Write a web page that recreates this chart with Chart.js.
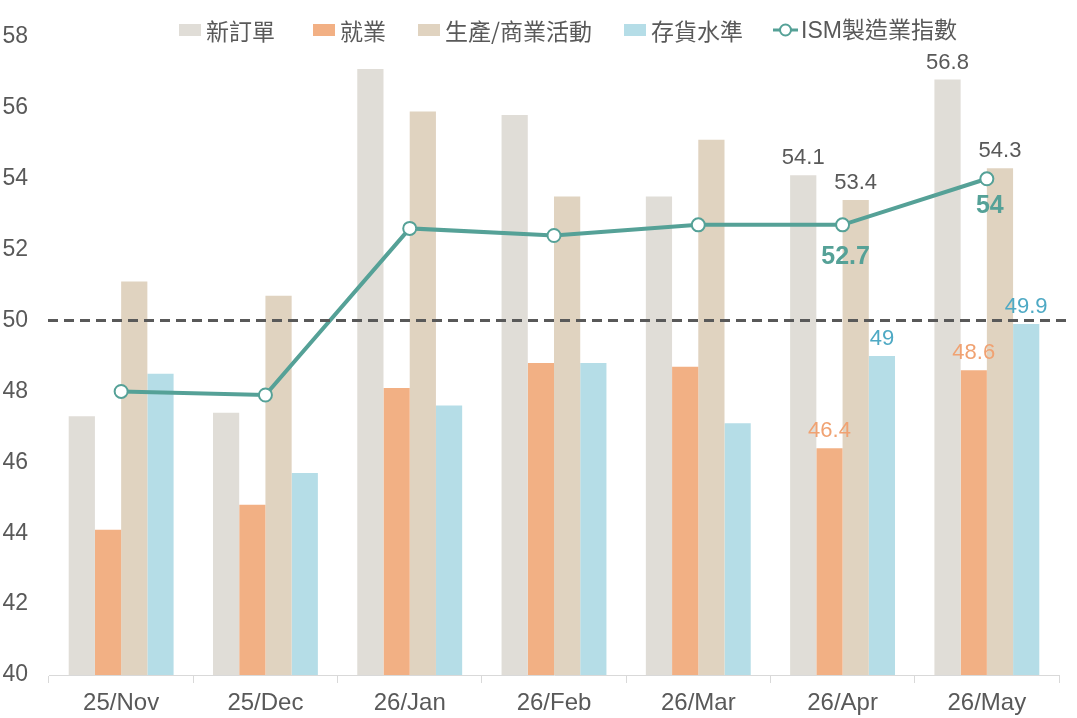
<!DOCTYPE html>
<html>
<head>
<meta charset="utf-8">
<script src="https://cdn.jsdelivr.net/npm/chart.js@4"></script>
<style>
    body { margin: 0; background: #fff; }
    #wrap { position: relative; width: 1077px; height: 718px; }
    #legend {
        position: absolute; top: 15px; left: 179px;
        display: flex; align-items: center;
        font-family: "Noto Sans CJK TC", "Liberation Sans", sans-serif;
        font-size: 23px; color: #595959; line-height: 30px;
    }
    .item { display: flex; align-items: center; }
    .box { width: 22px; height: 12px; margin-right: 5px; }
    .item span.txt { white-space: nowrap; }
    .ism { font-family: "Liberation Sans", "Noto Sans CJK TC", sans-serif; }
</style>
</head>
<body>
<div id="wrap">
    <canvas id="ismChart" width="1077" height="718"></canvas>
    <div id="legend"></div>
</div>
<script>
const months = ["25/Nov", "25/Dec", "26/Jan", "26/Feb", "26/Mar", "26/Apr", "26/May"];
const newOrders = [47.3, 47.4, 57.1, 55.8, 53.5, 54.1, 56.8];
const employment = [44.1, 44.8, 48.1, 48.8, 48.7, 46.4, 48.6];
const production = [51.1, 50.7, 55.9, 53.5, 55.1, 53.4, 54.3];
const inventories = [48.5, 45.7, 47.6, 48.8, 47.1, 49.0, 49.9];
const ismIndex = [48.0, 47.9, 52.6, 52.4, 52.7, 52.7, 54.0];
const yTicks = [40, 42, 44, 46, 48, 50, 52, 54, 56, 58];
const labeledMonths = [5, 6];
const threshold = 50;

const teal = "#55a197";
const fontLatin = "'Liberation Sans', Arial, sans-serif";

// dashed 50 line + value labels
const extras = {
    id: "extras",
    afterDatasetsDraw(chart) {
        const ctx = chart.ctx;
        const y = chart.scales.y.getPixelForValue(threshold);
        ctx.save();
        ctx.strokeStyle = "#595959";
        ctx.lineWidth = 3;
        ctx.setLineDash([10, 6]);
        ctx.beginPath();
        ctx.moveTo(chart.chartArea.left - 1, y);
        ctx.lineTo(chart.chartArea.right + 9, y);
        ctx.stroke();
        ctx.setLineDash([]);

        ctx.textAlign = "center";
        ctx.textBaseline = "alphabetic";
        chart.data.datasets.forEach((ds, di) => {
            const meta = chart.getDatasetMeta(di);
            labeledMonths.forEach(i => {
                const el = meta.data[i];
                const v = ds.data[i];
                if (ds.type === "line") {
                    ctx.font = "bold 25px " + fontLatin;
                    ctx.fillStyle = teal;
                    ctx.fillText(String(v), el.x + 3, el.y + (i === 5 ? 39 : 34));
                } else {
                    ctx.font = "22px " + fontLatin;
                    ctx.fillStyle = ds.labelColor;
                    ctx.fillText(String(v), el.x, el.y - 11);
                }
            });
        });
        ctx.restore();
    }
};

const barDs = (label, data, color, labelColor) => ({
    type: "bar",
    label: label,
    data: data,
    backgroundColor: color,
    labelColor: labelColor,
    categoryPercentage: 0.727,
    barPercentage: 1.0,
    order: 2
});

const chart = new Chart(document.getElementById("ismChart"), {
    data: {
        labels: months,
        datasets: [
            {
                type: "line",
                label: "ISM製造業指數",
                data: ismIndex,
                borderColor: teal,
                borderWidth: 4,
                pointRadius: 6.5,
                pointBorderWidth: 2,
                pointBackgroundColor: "#fff",
                pointBorderColor: teal,
                tension: 0,
                order: 1
            },
            barDs("新訂單", newOrders, "#e0ddd7", "#595959"),
            barDs("就業", employment, "#f2b084", "#f0a272"),
            barDs("生產/商業活動", production, "#e0d3c0", "#595959"),
            barDs("存貨水準", inventories, "#b5dde7", "#4ea9c4")
        ]
    },
    options: {
        responsive: false,
        animation: false,
        layout: { padding: { top: 37, right: 18, left: 0, bottom: 0 } },
        plugins: { legend: { display: false }, tooltip: { enabled: false } },
        scales: {
            x: {
                offset: true,
                grid: {
                    offset: true, drawOnChartArea: false, color: "#d9d9d9",
                    tickLength: 8, lineWidth: 1
                },
                border: { color: "#d9d9d9", width: 1 },
                ticks: { color: "#595959", font: { family: fontLatin, size: 24 }, padding: 6 },
                afterFit(scale) { scale.height = 43; }
            },
            y: {
                min: 40,
                max: 58,
                afterBuildTicks(scale) { scale.ticks = yTicks.map(v => ({ value: v })); },
                grid: { display: false, drawTicks: false },
                border: { display: false },
                ticks: { color: "#595959", font: { family: fontLatin, size: 23 }, padding: 21 },
                afterFit(scale) { scale.width = 49; }
            }
        }
    },
    plugins: [extras]
});

// html legend, order as in the original
const legend = document.getElementById("legend");
const gaps = [38, 32, 32, 30, 0];
[1, 2, 3, 4, 0].forEach((di, k) => {
    const ds = chart.data.datasets[di];
    const item = document.createElement("div");
    item.className = "item";
    item.style.marginRight = gaps[k] + "px";
    if (ds.type === "line") {
        item.innerHTML = '<svg width="25" height="16" style="margin-right:3px"><line x1="0" y1="8" x2="25" y2="8" stroke="' + teal +
            '" stroke-width="3"/><circle cx="12.5" cy="8" r="5.5" fill="#fff" stroke="' + teal + '" stroke-width="2"/></svg>';
    } else {
        item.innerHTML = '<div class="box" style="background:' + ds.backgroundColor + '"></div>';
    }
    const txt = document.createElement("span");
    txt.className = "txt" + (ds.type === "line" ? " ism" : "");
    txt.textContent = ds.label;
    item.appendChild(txt);
    legend.appendChild(item);
});
</script>
</body>
</html>
